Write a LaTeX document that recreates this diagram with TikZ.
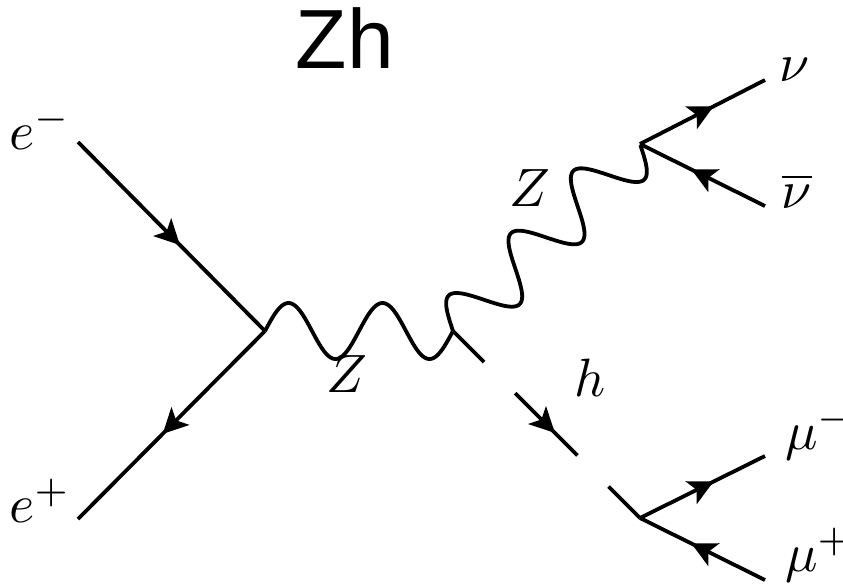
\documentclass[tikz,border=0pt]{standalone}
\usepackage{fontspec}
\newfontfamily\titlefont{Liberation Sans}
\usetikzlibrary{arrows.meta,decorations.markings,calc}
\begin{document}
\begin{tikzpicture}[x=0.5pt,y=-0.5pt, line width=1.9pt,
  fermion/.style={postaction={decorate}, decoration={markings,
     mark=at position 0.5 with {\pgftransformxshift{6.25pt}\arrow{Stealth[length=12.5pt,width=12.5pt,inset=3pt]}}}},
  scalar/.style={dash pattern=on 44pt off 22pt, dash phase=22pt},
  lbl/.style={inner sep=0pt, scale=2.7}]
\useasboundingbox (0,0) rectangle (843,586);
% vertices and ends
\coordinate (v1) at (265,331);
\coordinate (v2) at (453,331);
\coordinate (v3) at (640,144);
\coordinate (v4) at (640,518);
\coordinate (em) at (78,142);
\coordinate (ep) at (78,519);
\coordinate (nu) at (765,80);
\coordinate (nub) at (765,206);
\coordinate (mum) at (765,456);
\coordinate (mup) at (765,580);
% lines
\draw[fermion] (em) -- (v1);
\draw[fermion] (v1) -- (ep);
\draw[line join=round] let \p0=(v1), \p1=($(v2)-(v1)$), \n1={veclen(\x1,\y1)} in
  plot[domain=0:1, samples=161, smooth, variable=\t]
  ({\x0+\t*\x1-14pt*sin(720*\t)*\y1/\n1}, {\y0+\t*\y1+14pt*sin(720*\t)*\x1/\n1});
\draw[line join=round] let \p0=(v2), \p1=($(v3)-(v2)$), \n1={veclen(\x1,\y1)} in
  plot[domain=0:1, samples=201, smooth, variable=\t]
  ({\x0+\t*\x1-14pt*sin(1080*\t)*\y1/\n1}, {\y0+\t*\y1+14pt*sin(1080*\t)*\x1/\n1});
\draw[scalar, fermion] (v2) -- (v4);
\draw[fermion] (v3) -- (nu);
\draw[fermion] (nub) -- (v3);
\draw[fermion] (v4) -- (mum);
\draw[fermion] (mup) -- (v4);
% labels
\node[lbl] (lem) at (40,128) {$e^-$};
\node[lbl] (lep) at (40,501) {$e^+$};
\node[lbl] (lz1) at (347,374) {$Z$};
\node[lbl] (lz2) at (530,188) {$Z$};
\node[lbl] (lh) at (590,378) {$h$};
\node[lbl] (lnu) at (795,70) {$\nu$};
\node[lbl] (lnub) at (797,191) {$\overline{\nu}$};
\node[lbl, anchor=west] (lmum) at (780,433) {$\mu^-$};
\node[lbl, anchor=west] (lmup) at (780,555) {$\mu^+$};
\node[inner sep=0pt, font=\titlefont, scale=4.2] (title) at (345,38) {Zh};
\end{tikzpicture}
\end{document}
